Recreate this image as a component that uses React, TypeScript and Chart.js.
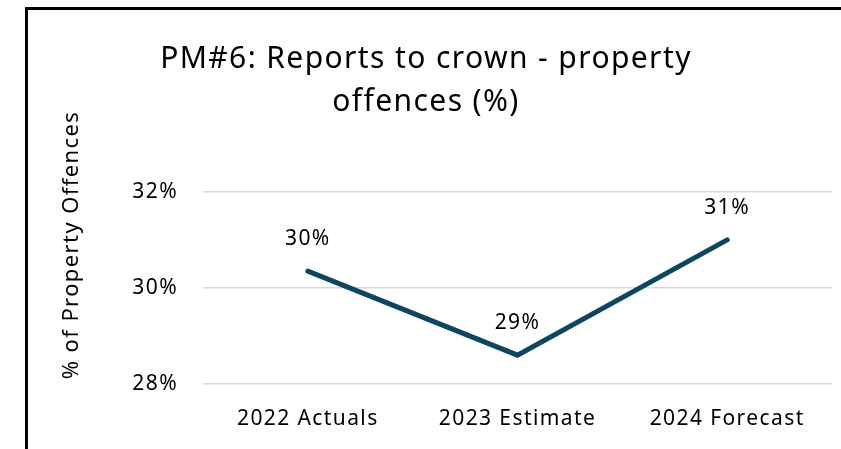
import React, { useEffect, useRef } from "react";
import { Chart, registerables } from "chart.js";

Chart.register(...registerables);

const categories: string[] = ["2022 Actuals", "2023 Estimate", "2024 Forecast"];
const values: number[] = [30.35, 28.6, 31.0];
const valueLabels: string[] = ["30%", "29%", "31%"];
const yTicks: number[] = [28, 30, 32];
const titleLines: string[] = ["PM#6: Reports to crown - property", "offences (%)"];
const yAxisTitle = "% of Property Offences";

const FONT = "'Noto Sans', 'Open Sans', sans-serif";

const spacingPlugin = {
  id: "spacing",
  beforeDraw(chart: any) {
    (chart.ctx as any).letterSpacing = "1.4px";
  },
};

const dataLabelPlugin = {
  id: "dataLabels",
  afterDatasetsDraw(chart: any) {
    const ctx = chart.ctx;
    const meta = chart.getDatasetMeta(0);
    ctx.save();
    ctx.font = `21px ${FONT}`;
    ctx.fillStyle = "#000";
    ctx.textAlign = "center";
    ctx.textBaseline = "middle";
    meta.data.forEach((pt: any, i: number) => {
      ctx.fillText(valueLabels[i], pt.x, pt.y - 32);
    });
    ctx.restore();
  },
};

const yTitlePlugin = {
  id: "yTitle",
  afterDraw(chart: any) {
    const ctx = chart.ctx;
    ctx.save();
    ctx.translate(72, 245);
    ctx.rotate(-Math.PI / 2);
    ctx.font = `22px ${FONT}`;
    ctx.fillStyle = "#000";
    ctx.textAlign = "center";
    ctx.textBaseline = "middle";
    ctx.fillText(yAxisTitle, 0, 0);
    ctx.restore();
  },
};

export default function App() {
  const ref = useRef<HTMLCanvasElement>(null);
  useEffect(() => {
    if (!ref.current) return;
    const chart = new Chart(ref.current, {
      type: "line",
      data: {
        labels: categories,
        datasets: [
          {
            data: values,
            borderColor: "#0E4561",
            borderWidth: 5,
            pointRadius: 0,
            pointHoverRadius: 0,
            borderCapStyle: "round",
            borderJoinStyle: "miter",
            tension: 0,
            fill: false,
          },
        ],
      },
      options: {
        animation: false,
        responsive: false,
        maintainAspectRatio: false,
        layout: { padding: { left: 20, right: 9, top: 0, bottom: 0 } },
        plugins: {
          legend: { display: false },
          tooltip: { enabled: false },
          title: {
            display: true,
            text: titleLines,
            color: "#000",
            font: { family: FONT, size: 30, weight: "normal", lineHeight: 1.43 },
            padding: { top: 38, bottom: 68 },
          },
        },
        scales: {
          x: {
            offset: true,
            grid: { display: false, drawTicks: false },
            border: { display: false },
            ticks: {
              color: "#000",
              font: { family: FONT, size: 21 },
              padding: 22,
              maxRotation: 0,
            },
            afterFit(scale: any) {
              scale.height = 65;
            },
          },
          y: {
            min: 28,
            max: 32,
            afterBuildTicks(scale: any) {
              scale.ticks = yTicks.map((v) => ({ value: v }));
            },
            grid: { color: "#D9D9D9", lineWidth: 1.5, drawTicks: false },
            border: { display: false },
            ticks: {
              color: "#000",
              font: { family: FONT, size: 21 },
              padding: 25,
              callback: (v: any) => `${v}%`,
            },
            afterFit(scale: any) {
              scale.width = 183;
            },
          },
        },
      },
      plugins: [spacingPlugin, dataLabelPlugin, yTitlePlugin],
    });
    return () => chart.destroy();
  }, []);

  return (
    <div
      style={{
        position: "fixed",
        left: 0,
        top: 0,
        width: 841,
        height: 449,
        overflow: "hidden",
        background: "#fff",
      }}
    >
      <canvas ref={ref} width={841} height={449} style={{ position: "absolute", left: 0, top: 0 }} />
      <div
        style={{
          position: "absolute",
          left: 25,
          top: 7,
          width: 900,
          height: 600,
          borderLeft: "3px solid #000",
          borderTop: "3px solid #000",
          pointerEvents: "none",
        }}
      />
    </div>
  );
}
